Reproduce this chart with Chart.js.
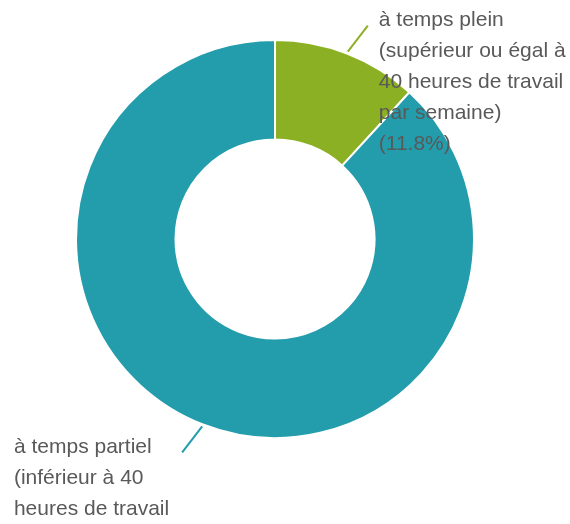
<!DOCTYPE html>
<html>
<head>
<meta charset="utf-8">
<script src="https://cdn.jsdelivr.net/npm/chart.js@4"></script>
<style>
  html, body { margin: 0; padding: 0; background: #fff; }
  #wrap { width: 570px; height: 524px; }
</style>
</head>
<body>
<div id="wrap"><canvas id="donut" width="570" height="524"></canvas></div>
<script>
// data
const categories = [
    'à temps plein (supérieur ou égal à 40 heures de travail par semaine)',
    'à temps partiel (inférieur à 40 heures de travail par semaine)'
];
const shares = [11.8, 88.2];
const sliceColors = ['#8cb023', '#239cac'];

// wrap a string into lines no wider than maxWidth
function wrapText(ctx, text, maxWidth) {
    const words = text.split(' ');
    const lines = [];
    let line = '';
    words.forEach(w => {
        const test = line ? line + ' ' + w : w;
        if (line && ctx.measureText(test).width > maxWidth) {
            lines.push(line);
            line = w;
        } else {
            line = test;
        }
    });
    if (line) lines.push(line);
    return lines;
}

//outside labels with leader lines
const outsideLabels = {
    id: 'outsideLabels',
    afterDraw(chart) {
        const ctx = chart.ctx;
        const meta = chart.getDatasetMeta(0);
        ctx.save();
        ctx.font = '21px "Liberation Sans", Arial, sans-serif';
        ctx.textBaseline = 'middle';
        ctx.textAlign = 'left';
        meta.data.forEach((arc, i) => {
            const mid = (arc.startAngle + arc.endAngle) / 2;
            const cos = Math.cos(mid), sin = Math.sin(mid);
            const r = arc.outerRadius + 2;
            const sx = arc.x + cos * r;
            const sy = arc.y + sin * r;
            const ex = sx + Math.sign(cos) * 20;
            const ey = sy + Math.sign(sin) * 26;

            ctx.strokeStyle = sliceColors[i];
            ctx.lineWidth = 2;
            ctx.beginPath();
            ctx.moveTo(sx, sy);
            ctx.lineTo(ex, ey);
            ctx.stroke();

            const text = categories[i] + ' (' + shares[i].toFixed(1) + '%)';
            const right = cos >= 0;
            const maxW = right ? chart.width - (ex + 11) : 165;
            const lines = wrapText(ctx, text, maxW);
            const blockW = Math.max(...lines.map(l => ctx.measureText(l).width));
            const tx = right ? ex + 11 : ex - 13 - blockW;
            const ty = ey - 5;
            ctx.fillStyle = '#595959';
            lines.forEach((l, k) => {
                ctx.fillText(l, tx, ty + k * 31);
            });
        });
        ctx.restore();
    }
};

//create doughnut chart
const ctx = document.getElementById('donut').getContext('2d');
const donut = new Chart(ctx, {
    type: 'doughnut',
    data: {
        labels: categories,
        datasets: [{
            data: shares,
            backgroundColor: sliceColors,
            borderColor: '#fff',
            borderWidth: 2
        }]
    },
    options: {
        responsive: false,
        animation: false,
        cutout: '50%',
        layout: {
            padding: { left: 75, right: 95, top: 39, bottom: 85 }
        },
        plugins: {
            legend: { display: false },
            tooltip: { enabled: false }
        }
    },
    plugins: [outsideLabels]
});
</script>
</body>
</html>
